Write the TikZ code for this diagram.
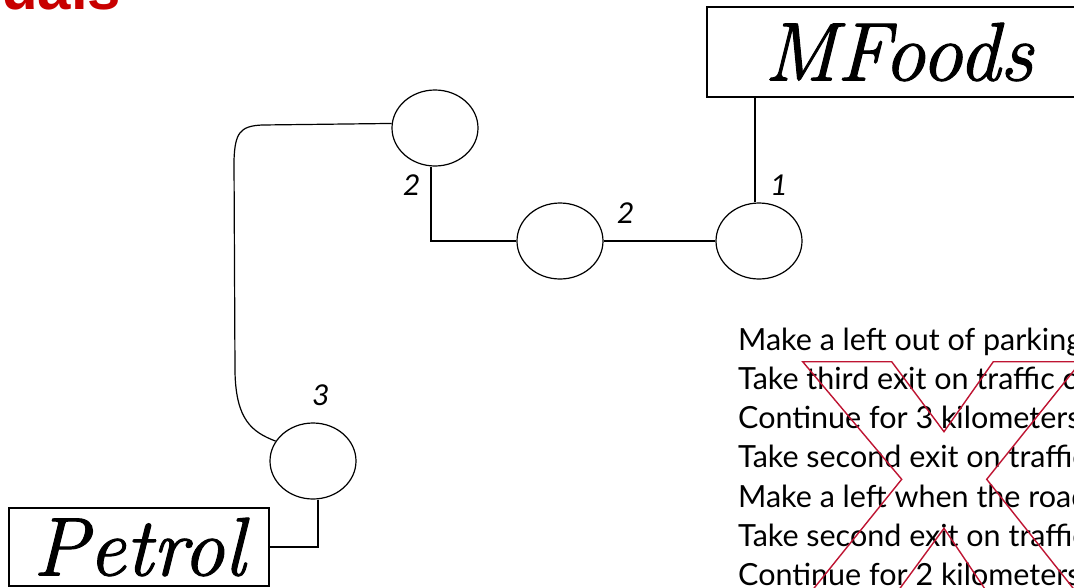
\documentclass[tikz,border=0pt]{standalone}
\usepackage{fontspec}
\usetikzlibrary{shapes.geometric,calc}
\newfontfamily\labfont{Carlito}
\newfontfamily\instrfont{Lato}
\newfontfamily\headfont{Liberation Sans}
\newfontfamily\placefont[FakeBold=1.3]{Latin Modern Roman}
\definecolor{xred}{RGB}{190,20,50}
\definecolor{hred}{RGB}{200,0,0}
\tikzset{
  spot/.style={draw, ellipse, line width=1.2pt, minimum width=86pt, minimum height=76pt, inner sep=0pt},
  place/.style={draw, line width=1.4pt, inner sep=0pt, font=\fontsize{83}{88}\selectfont\placefont\itshape},
  road/.style={line width=1.2pt},
  num/.style={font=\fontsize{32}{34}\selectfont\labfont\itshape, inner sep=0pt},
  instr/.style={anchor=base west, inner sep=0pt, font=\fontsize{30.5}{34}\selectfont\instrfont},
  cross/.style={draw=xred, line width=1.4pt, line join=miter}
}
\begin{document}
\begin{tikzpicture}[x=1pt,y=-1pt]
\useasboundingbox (0,0) rectangle (1074,587);
\clip (0,0) rectangle (1074,587);
\fill[white] (0,0) rectangle (1074,587);
% heading fragment
\node[anchor=base west, inner sep=0pt, text=hred, font=\fontsize{60}{64}\selectfont\headfont\bfseries] (head) at (1,9) {uals};
% boxes
\node[place, minimum width=383pt, minimum height=90pt] (mf) at (898.5,52) {MFoods};
\node[place, minimum width=260pt, minimum height=78pt] (pb) at (139,547) {Petrol};
% junctions
\node[spot] (e1) at (759,241) {};
\node[spot] (e2) at (560,241) {};
\node[spot] (e3) at (435,128) {};
\node[spot] (e4) at (313,461) {};
% roads
\draw[road] ($(e1.north)+(-4,0)$) coordinate (a1) -- (a1 |- mf.south);
\draw[road] (e2.east) -- (e1.west);
\draw[road] ($(e3.south)+(-4,0)$) coordinate (a3) -- (a3 |- e2.west) -- (e2.west);
\draw[road] (e3.174) -- (262,125) .. controls (240,126) and (235,133) .. (234,160) -- (235,372) .. controls (236,420) and (252,432) .. (e4.152);
\draw[road] ($(e4.south)+(5,0)$) coordinate (a4) -- (a4 |- pb.east) -- (pb.east);
% distance labels
\node[num] (n1) at (778,185) {1};
\node[num] (n2) at (625,213) {2};
\node[num] (n3) at (411,185) {2};
\node[num] (n4) at (320,395) {3};
% instructions
\node[instr] (t1) at (738,350) {Make a left out of parking};
\node[instr] (t2) at (738,389) {Take third exit on traffic c};
\node[instr] (t3) at (738,428) {Continue for 3 kilometers};
\node[instr] (t4) at (738,467) {Take second exit on traffic};
\node[instr] (t5) at (738,507) {Make a left when the road};
\node[instr] (t6) at (738,546) {Take second exit on traffic};
\node[instr] (t7) at (738,585) {Continue for 2 kilometers};
% red cross outline
\draw[cross] (802.7,361.7) -- (891.7,361.7) -- (944,431.7) -- (993.3,361.7) -- (1081,361.7) -- (986.7,479.3) -- (1082.5,600) -- (992.4,600) -- (944,528.3) -- (891.4,600) -- (804.5,600) -- (901.7,479.3) -- cycle;
\end{tikzpicture}
\end{document}
